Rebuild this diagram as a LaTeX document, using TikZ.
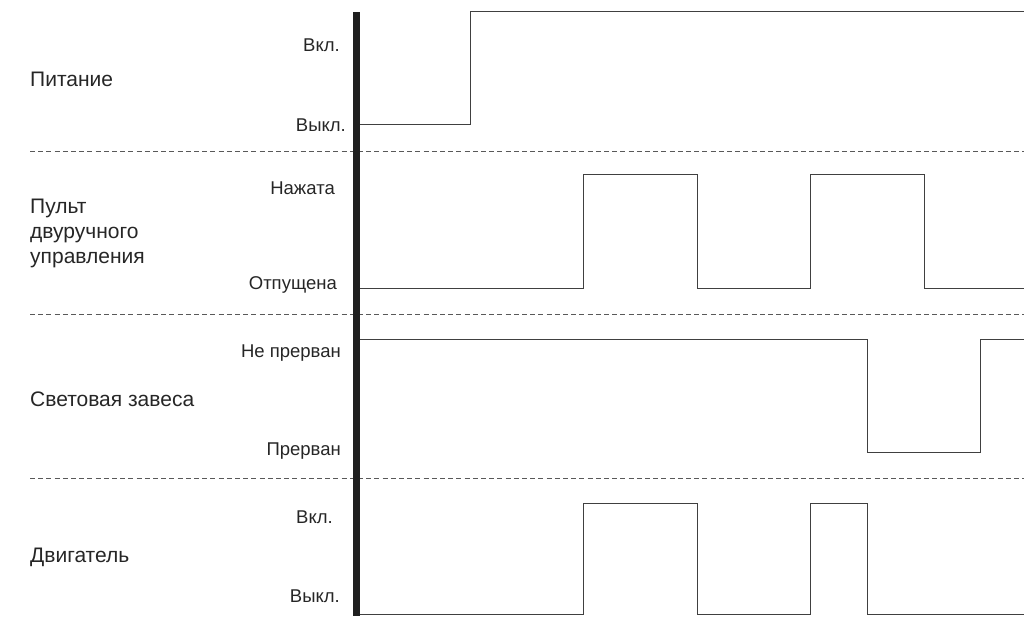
\documentclass[tikz,border=0pt]{standalone}
\usepackage{fontspec}
\setmainfont{Liberation Sans}
\begin{document}
\begin{tikzpicture}[x=1pt,y=-1pt,
  biglbl/.style={anchor=west,inner sep=0pt,font=\fontsize{21}{25}\selectfont,text=black!85},
  smalllbl/.style={anchor=east,inner sep=0pt,font=\fontsize{18.5}{20}\selectfont,text=black!85},
  sig/.style={draw=black!75,line width=1pt},
  sep/.style={draw=black!65,line width=1pt,dash pattern=on 5pt off 3.2pt},
  axis/.style={draw=black!88,line width=6.5pt}]
\useasboundingbox (0,0) rectangle (1024,616);
% separators
\draw[sep] (30,151) -- (1024,151);
\draw[sep] (30,314) -- (1024,314);
\draw[sep] (30,478) -- (1024,478);
% signals
\draw[sig] (359,124) -- (470,124) -- (470,11) -- (1024,11);
\draw[sig] (359,288) -- (583,288) -- (583,174) -- (697,174) -- (697,288) -- (810,288) -- (810,174) -- (924,174) -- (924,288) -- (1024,288);
\draw[sig] (359,339) -- (867,339) -- (867,452) -- (980,452) -- (980,339) -- (1024,339);
\draw[sig] (359,614.5) -- (583,614.5) -- (583,503) -- (697,503) -- (697,614.5) -- (810,614.5) -- (810,503) -- (867,503) -- (867,614.5) -- (1024,614.5);
% axis
\draw[axis] (356.3,12) -- (356.3,616);
% left labels
\node[biglbl] (pit) at (30,79) {Питание};
\node[biglbl,align=left] (pult) at (30,233) {Пульт\\двуручного\\управления};
\node[biglbl] (zav) at (30,399) {Световая завеса};
\node[biglbl] (dvig) at (30,557) {Двигатель};
% right labels
\node[smalllbl] (von1) at (340,45) {Вкл.};
\node[smalllbl] (voff1) at (346,125) {Выкл.};
\node[smalllbl] (naj) at (335,188) {Нажата};
\node[smalllbl] (otp) at (337,285) {Отпущена};
\node[smalllbl] (nepr) at (341,353) {Не прерван};
\node[smalllbl] (pr) at (341,451) {Прерван};
\node[smalllbl] (von2) at (333,517) {Вкл.};
\node[smalllbl] (voff2) at (340,596) {Выкл.};
\end{tikzpicture}
\end{document}
